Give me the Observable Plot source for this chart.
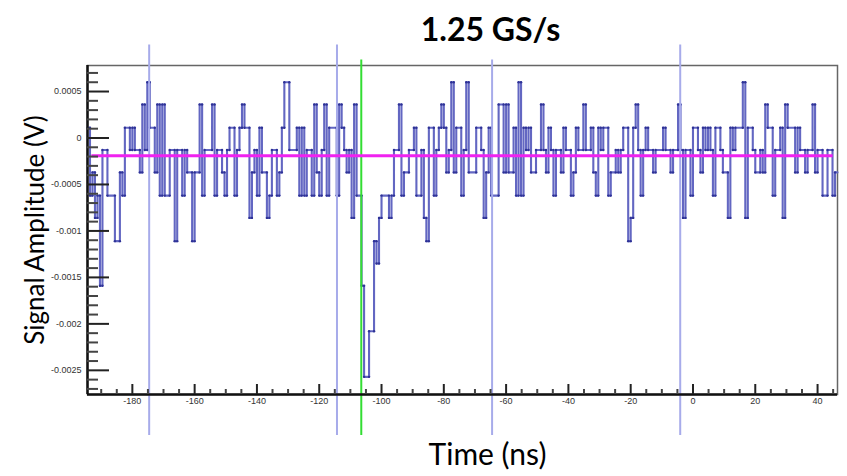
<!DOCTYPE html>
<html><head><meta charset="utf-8">
<script src="https://cdn.jsdelivr.net/npm/d3@7"></script>
<script src="https://cdn.jsdelivr.net/npm/@observablehq/plot@0.6"></script>
<style>body{margin:0;background:#fff}</style>
</head><body><div id="chart"></div>
<script>
// ---- data ----
const titleText = "1.25 GS/s";
const xLabel = "Time (ns)";
const yLabel = "Signal Amplitude (V)";
const sampleStartNs = -194.4;   // left edge of first sample bin
const samplePeriodNs = 0.8;     // 1.25 GS/s
const amplitudeV = [
  0.00011,-0.00062,-0.00037,-0.00086,-0.00062,-0.00159,-0.00013,-0.00013,-0.00062,-0.00062,
  -0.00062,-0.00111,-0.00111,-0.00037,-0.00062,0.00011,0.00011,-0.00013,0.00011,-0.00013,
  -0.00013,-0.00037,0.00036,-0.00013,0.0006,0.00011,0.00011,-0.00037,0.00036,-0.00062,
  0.00036,-0.00062,-0.00062,-0.00013,-0.00013,-0.00111,-0.00013,-0.00013,-0.00062,-0.00013,
  -0.00037,-0.00037,-0.00111,-0.00037,-0.00037,0.00036,-0.00062,-0.00013,-0.00013,-0.00013,
  0.00036,-0.00062,-0.00013,-0.00013,-0.00037,-0.00062,-0.00013,0.00011,0.00011,-0.00062,
  -0.00013,0.00011,0.00036,0.00011,0.00011,-0.00086,-0.00037,-0.00013,-0.00062,0.00011,
  -0.00037,-0.00037,-0.00086,-0.00062,-0.00013,-0.00013,-0.00062,-0.00037,0.00011,0.0006,
  0.0006,-0.00013,-0.00013,-0.00013,0.00011,-0.00062,0.00011,-0.00062,-0.00013,-0.00013,
  -0.00062,0.00036,-0.00037,-0.00062,-0.00013,0.00036,-0.00062,0.00011,0.00011,0.00011,
  -0.00062,0.00036,0.00011,-0.00013,-0.00037,-0.00013,-0.00086,0.00036,-0.00062,-0.00062,
  -0.00159,-0.00257,-0.00257,-0.00208,-0.00208,-0.00111,-0.00135,-0.00086,-0.00062,-0.00062,
  -0.00062,-0.00086,-0.00062,-0.00013,-0.00013,0.00036,-0.00062,-0.00037,-0.00037,-0.00013,
  -0.00013,0.00011,-0.00062,-0.00062,-0.00013,-0.00086,-0.00111,0.00011,0.00011,-0.00062,
  -0.00013,0.00011,0.00036,0.00011,-0.00037,-0.00013,0.0006,-0.00037,0.00011,0.00011,
  -0.00062,-0.00013,0.0006,-0.00037,-0.00037,-0.00037,0.00011,0.00011,-0.00013,-0.00086,
  -0.00037,0.00011,-0.00062,-0.00062,-0.00062,0.00036,0.00036,-0.00037,0.00036,-0.00037,
  -0.00037,0.00011,-0.00062,0.0006,-0.00062,0.00011,-0.00013,0.00011,-0.00037,-0.00037,
  -0.00013,-0.00013,0.00036,-0.00013,-0.00037,0.00011,-0.00013,-0.00062,-0.00013,-0.00013,
  -0.00037,0.00011,-0.00013,-0.00013,-0.00062,-0.00037,0.00011,-0.00013,-0.00013,0.00036,
  -0.00013,-0.00013,0.00011,-0.00037,-0.00062,0.00011,-0.00013,0.00011,0.00011,-0.00062,
  -0.00037,-0.00037,-0.00013,-0.00037,-0.00013,0.00011,0.00011,-0.00111,-0.00086,0.00011,
  0.00036,-0.00013,-0.00062,-0.00013,0.00011,-0.00013,-0.00013,-0.00037,-0.00013,-0.00013,
  -0.00013,0.00011,-0.00013,-0.00013,-0.00037,-0.00013,-0.00013,0.00036,-0.00013,-0.00086,
  -0.00013,-0.00013,-0.00062,0.00011,0.00011,-0.00013,-0.00037,0.00011,-0.00013,0.00011,
  -0.00013,-0.00062,0.00011,0.00011,-0.00013,-0.00037,-0.00037,-0.00086,0.00011,-0.00013,
  0.00011,0.00011,0.00011,0.0006,-0.00086,0.00011,0.00011,-0.00013,-0.00037,-0.00037,
  -0.00013,-0.00037,0.00036,0.00011,0.00011,-0.00062,-0.00013,-0.00013,0.00011,-0.00086,
  0.00036,0.00011,0.00011,0.00011,-0.00037,0.00011,-0.00013,-0.00013,-0.00037,-0.00013,
  -0.00013,0.00036,-0.00037,-0.00013,-0.00013,-0.00062,-0.00062,-0.00013,-0.00013,-0.00062,
  -0.00037
];
const baselineV = -0.00019;
const baselineSpanNs = [-193, 45];
const windowMarkersNs = [-174.6, -114.3, -64.5, -4.1];
const windowMarkerTopV = [0.001, 0.001, 0.00084, 0.001];
const markerBottomV = -0.0032;
const triggerNs = -106.5;
const triggerTopV = 0.00084;
const xTicks = [-180, -160, -140, -120, -100, -80, -60, -40, -20, 0, 20, 40];
const yTicks = [0.0005, 0, -0.0005, -0.001, -0.0015, -0.002, -0.0025];
const xDomain = [-194.4, 46.4];
const yDomain = [-0.00276, 0.00078];

// ---- derived ----
const steps = amplitudeV.map((v, i) => ({t: sampleStartNs + i * samplePeriodNs, v}));
steps.push({t: sampleStartNs + amplitudeV.length * samplePeriodNs, v: amplitudeV[amplitudeV.length - 1]});
const corners = [];
for (let i = 0; i < amplitudeV.length - 1; i++) {
  if (amplitudeV[i] !== amplitudeV[i + 1]) {
    const t = sampleStartNs + (i + 1) * samplePeriodNs;
    corners.push({t, v: amplitudeV[i]}, {t, v: amplitudeV[i + 1]});
  }
}
const xMinor = d3.range(-190, 46, 5).filter(d => d % 20 !== 0);
const yMinor = d3.range(-27, 8).map(k => k / 10000).filter(d => Math.abs(Math.round(d * 10000)) % 5 !== 0);
const markers = windowMarkersNs.map((t, i) => ({t, top: windowMarkerTopV[i]}));

const tickStroke = "#222";
const labelFont = "Lato, 'Open Sans', sans-serif";
const chart = Plot.plot({
  width: 847, height: 476,
  marginLeft: 87, marginRight: 10, marginTop: 65, marginBottom: 82,
  x: {domain: xDomain},
  y: {domain: yDomain},
  style: {fontFamily: "'Liberation Sans', Arial, sans-serif", background: "#fff"},
  marks: [
    Plot.frame({stroke: "#666", strokeWidth: 1.5}),
    Plot.line(steps, {x: "t", y: "v", curve: "step-after", stroke: "#6367c2", strokeWidth: 2.1}),
    Plot.dot(corners, {x: "t", y: "v", r: 1.2, fill: "#2e3296", stroke: null}),
    Plot.ruleX(markers, {x: "t", y1: "top", y2: markerBottomV, stroke: "#a7abea", strokeWidth: 2}),
    Plot.ruleX([triggerNs], {x: d => d, y1: triggerTopV, y2: markerBottomV, stroke: "#33dd33", strokeWidth: 2}),
    Plot.ruleY([baselineV], {y: d => d, x1: baselineSpanNs[0], x2: baselineSpanNs[1], stroke: "#f022f0", strokeWidth: 3}),
    Plot.ruleX([xDomain[0]], {stroke: "#111", strokeWidth: 2.5}),
    Plot.ruleY([yDomain[0]], {stroke: "#111", strokeWidth: 2.5}),
    Plot.axisY({ticks: yTicks, tickSize: -22, stroke: tickStroke, strokeWidth: 2, fill: "none"}),
    Plot.axisY({ticks: yMinor, tickSize: -11, stroke: "#444", strokeWidth: 2, fill: "none"}),
    Plot.axisY({ticks: yTicks, tickSize: 0, tickPadding: 6, tickFormat: d => String(d), fontSize: 9, fill: "#333", label: null}),
    Plot.axisX({ticks: xTicks, tickSize: -10, stroke: tickStroke, strokeWidth: 2, fill: "none"}),
    Plot.axisX({ticks: xMinor, tickSize: -5, stroke: "#444", strokeWidth: 2, fill: "none"}),
    Plot.axisX({ticks: xTicks, tickSize: 0, tickPadding: 3, tickFormat: d => String(d), fontSize: 9, fill: "#333", label: null}),
    Plot.text([titleText], {text: d => d, frameAnchor: "top", textAnchor: "middle", lineAnchor: "middle", dx: 28, dy: -35, fontSize: 32, fontWeight: "bold", fontFamily: labelFont, fill: "#000"}),
    Plot.text([yLabel], {text: d => d, frameAnchor: "left", textAnchor: "middle", lineAnchor: "middle", rotate: -90, dx: -52, fontSize: 26, fontFamily: labelFont, fill: "#000"}),
    Plot.text([xLabel], {text: d => d, frameAnchor: "bottom", textAnchor: "middle", lineAnchor: "middle", dx: 25, dy: 61, fontSize: 30, fontFamily: labelFont, fill: "#000"})
  ]
});
document.getElementById("chart").appendChild(chart);
</script>
</body></html>
